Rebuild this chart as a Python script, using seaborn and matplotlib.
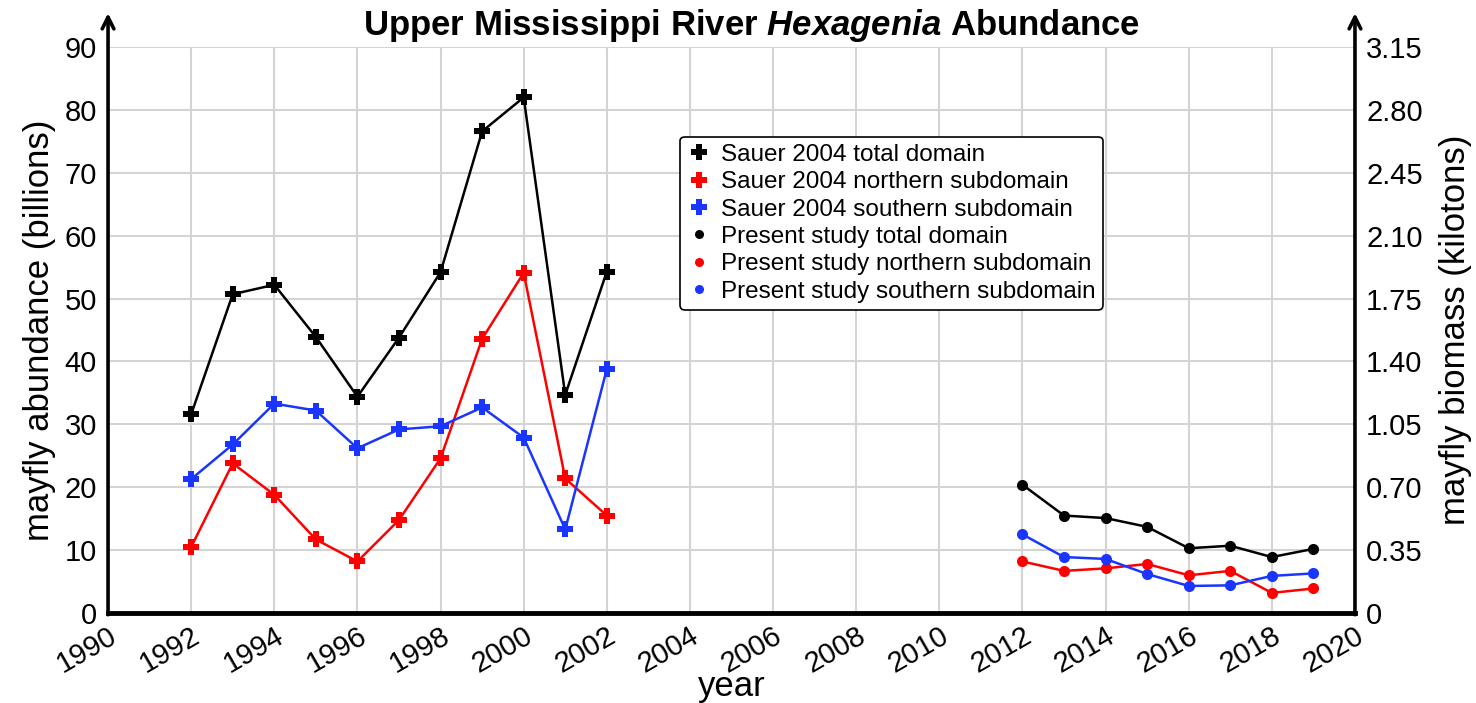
import numpy as np
import pandas as pd
import matplotlib
matplotlib.use("Agg")
import matplotlib.pyplot as plt
import seaborn as sns
from matplotlib.lines import Line2D

# Sauer 2004 estimates (billions of mayflies)
sauer_years = [1992, 1993, 1994, 1995, 1996, 1997, 1998, 1999, 2000, 2001, 2002]
sauer_total = [31.6, 50.7, 52.2, 43.9, 34.4, 43.8, 54.2, 76.6, 82.0, 34.7, 54.3]
sauer_north = [10.5, 23.8, 18.8, 11.7, 8.2, 14.8, 24.6, 43.6, 54.1, 21.4, 15.5]
sauer_south = [21.3, 26.8, 33.3, 32.2, 26.2, 29.2, 29.7, 32.7, 27.9, 13.3, 38.8]

# Present study estimates (billions of mayflies)
present_years = [2012, 2013, 2014, 2015, 2016, 2017, 2018, 2019]
present_total = [20.4, 15.5, 15.1, 13.7, 10.3, 10.7, 8.9, 10.2]
present_north = [8.2, 6.7, 7.1, 7.8, 6.0, 6.7, 3.2, 3.9]
present_south = [12.5, 8.9, 8.6, 6.2, 4.3, 4.4, 5.9, 6.3]

x_ticks = list(range(1990, 2021, 2))
left_ticks = list(range(0, 91, 10))
right_ticks = [0, 0.35, 0.70, 1.05, 1.40, 1.75, 2.10, 2.45, 2.80, 3.15]
right_labels = ["0", "0.35", "0.70", "1.05", "1.40", "1.75", "2.10", "2.45", "2.80", "3.15"]

sns.set_theme(style="white")
plt.rcParams["font.family"] = ["Liberation Sans", "DejaVu Sans"]
plt.rcParams.update({
    "text.color": "black",
    "axes.labelcolor": "black",
    "xtick.color": "black",
    "ytick.color": "black",
    "mathtext.fontset": "custom",
    "mathtext.rm": "Liberation Sans:bold",
    "mathtext.bfit": "Liberation Sans:italic:bold",
    "mathtext.it": "Liberation Sans:italic:bold",
})

fig = plt.figure(figsize=(14.76, 7.03), dpi=100)
ax = fig.add_axes([0.0732, 0.128, 0.8448, 0.805])

grid_c = "#d4d4d4"
series = [
    (sauer_years, sauer_total, "black", "P", 11),
    (sauer_years, sauer_north, "#ff0000", "P", 11),
    (sauer_years, sauer_south, "#1a35ff", "P", 11),
    (present_years, present_total, "black", "o", 8),
    (present_years, present_north, "#ff0000", "o", 8),
    (present_years, present_south, "#1a35ff", "o", 8),
]
for xs, ys, col, mk, ms in series:
    df = pd.DataFrame({"year": xs, "value": ys})
    sns.lineplot(data=df, x="year", y="value", ax=ax, color=col, lw=1.8,
                 marker=mk, markersize=ms, markeredgewidth=0, zorder=3)

ax.set_xlim(1990, 2020)
ax.set_ylim(0, 90)
ax.set_xticks(x_ticks)
ax.set_yticks(left_ticks)
ax.set_xticklabels([str(t) for t in x_ticks], rotation=30, ha="right",
                   rotation_mode="anchor", fontsize=21)
ax.tick_params(axis="y", labelsize=21, length=0, pad=8)
ax.tick_params(axis="x", length=0, pad=6)
ax.grid(True, color=grid_c, lw=1.5)
ax.set_axisbelow(True)
ax.set_xlabel("year", fontsize=25, labelpad=-6)
ax.set_ylabel("mayfly abundance (billions)", fontsize=25, labelpad=6)

for side in ["left", "right", "top"]:
    ax.spines[side].set_visible(False)
ax.spines["bottom"].set_color("black")
ax.spines["bottom"].set_linewidth(3.5)

ax2 = ax.twinx()
ax2.set_ylim(0, 3.15)
ax2.set_yticks(right_ticks)
ax2.set_yticklabels(right_labels)
ax2.tick_params(axis="y", labelsize=21, length=0, pad=8)
ax2.set_ylabel("mayfly biomass (kilotons)", fontsize=25, labelpad=12)
for side in ["left", "right", "top", "bottom"]:
    ax2.spines[side].set_visible(False)

# Vertical axes drawn as arrows rising past the plotting area
for xpos in (0, 1):
    ax.annotate("", xy=(xpos, 1.06), xytext=(xpos, -0.003),
                xycoords="axes fraction", textcoords="axes fraction",
                arrowprops=dict(arrowstyle="->,head_length=0.7,head_width=0.35",
                                color="black", lw=2.6, shrinkA=0, shrinkB=0),
                annotation_clip=False)

ax.set_title(r"Upper Mississippi River $\mathbfit{Hexagenia}$ Abundance",
             fontsize=25, fontweight="bold", pad=9, x=0.516)

labels = ["Sauer 2004 total domain", "Sauer 2004 northern subdomain",
          "Sauer 2004 southern subdomain", "Present study total domain",
          "Present study northern subdomain", "Present study southern subdomain"]
handles = [Line2D([], [], ls="none", marker=mk, color=col,
                  markersize=(11 if mk == "P" else 6.5), markeredgewidth=0)
           for _, _, col, mk, _ in series]
leg = ax.legend(handles, labels, loc="upper left", bbox_to_anchor=(0.4587, 0.842),
                fontsize=17.5, frameon=True, fancybox=True, framealpha=1,
                edgecolor="black", handletextpad=0.4, labelspacing=0.22,
                borderpad=0.3, handlelength=1.0, borderaxespad=0)
leg.get_frame().set_linewidth(1.2)

fig.savefig("out.png", dpi=100)
